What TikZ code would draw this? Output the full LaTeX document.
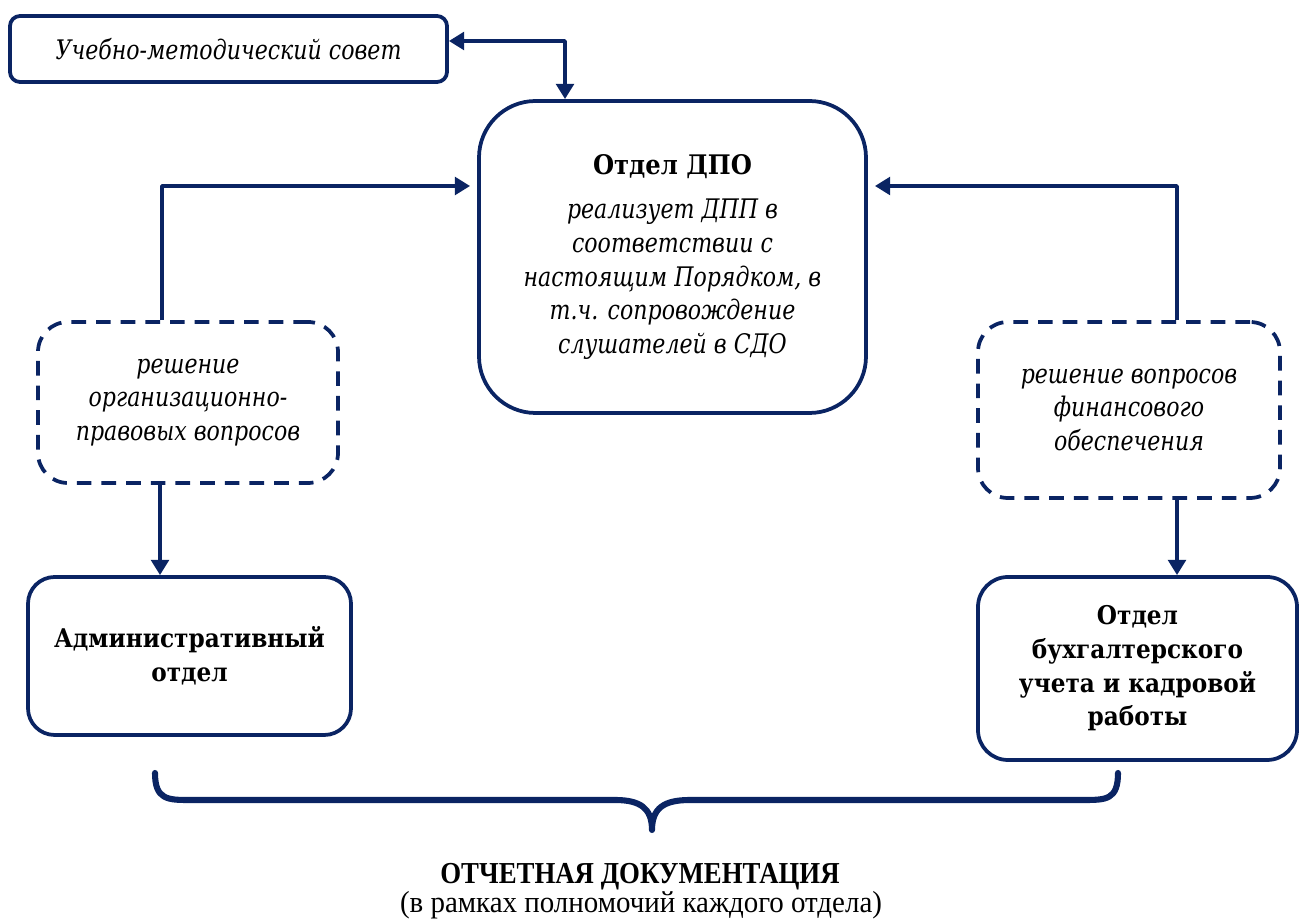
\documentclass[tikz,border=0pt]{standalone}
\usepackage{fontspec}
\setmainfont{DejaVu Serif}
\newfontfamily\notefont{DejaVu Serif}[FakeStretch=0.82]
\newfontfamily\headfont{DejaVu Serif}[FakeStretch=0.9]
\newfontfamily\timesfont{Liberation Serif}[FakeStretch=0.88]
\newfontfamily\timeswide{Liberation Serif}[FakeStretch=0.95]
\usetikzlibrary{arrows.meta}
\definecolor{navy}{HTML}{0A2463}
\begin{document}
\begin{tikzpicture}[x=0.015cm, y=-0.015cm, line join=round, >={Triangle[width=7.5pt,length=6.5pt]},
    font=\fontsize{10.5}{14}\selectfont,
    box/.style={draw=navy, line width=1.6pt, rounded corners=#1, align=center, inner sep=0pt},
    box/.default=0.15cm,
    qbox/.style={box=#1, dash pattern=on 0.22cm off 0.15cm},
    link/.style={draw=navy, line width=1.6pt},
    note/.style={font=\notefont\fontsize{11.5}{14.4}\selectfont\itshape},
    head/.style={font=\headfont\fontsize{11}{14.4}\selectfont\bfseries}]
    \useasboundingbox (0,0) rectangle (1299,922);
    % boxes
    \node[box, note, minimum width=6.555cm, minimum height=0.99cm] (ums) at (228.5,49) {Учебно-методический совет};
    \node[box=0.85cm, note, minimum width=5.805cm, minimum height=4.68cm] (dpo) at (672.5,257)
        {\upshape\bfseries\headfont Отдел ДПО\\[4.5pt] реализует ДПП в\\ соответствии с\\ настоящим Порядком, в\\ т.ч. сопровождение\\ слушателей в СДО};
    \node[qbox=0.45cm, note, minimum width=4.5cm, minimum height=2.415cm] (org) at (188,402.5) {решение\\ организационно-\\ правовых вопросов};
    \node[qbox=0.45cm, note, minimum width=4.53cm, minimum height=2.64cm] (fin) at (1129,410) {решение вопросов\\ финансового\\ обеспечения};
    \node[box=0.4cm, head, minimum width=4.845cm, minimum height=2.37cm] (adm) at (189.5,656) {Административный\\ отдел};
    \node[box=0.45cm, head, minimum width=4.785cm, minimum height=2.745cm] (buh) at (1137.5,668.5) {Отдел\\ бухгалтерского\\ учета и кадровой\\ работы};
    % connectors
    \coordinate (t1) at (565,41);
    \coordinate (l1) at (162,186);
    \coordinate (r1) at (1177,186);
    \coordinate (l2) at (160,0);
    \draw[link, <->] (t1 -| ums.east) -- (t1) -- (t1 |- dpo.north);
    \draw[link, ->, shorten >=3pt] (org.north -| l1) -- (l1) -- (l1 -| dpo.west);
    \draw[link, ->, shorten >=3pt] (fin.north -| r1) -- (r1) -- (r1 -| dpo.east);
    \draw[link, ->] (org.south -| l2) -- (adm.north -| l2);
    \draw[link, ->] (fin.south -| r1) -- (buh.north -| r1);
    % brace
    \draw[navy, line width=2.6pt, line cap=round]
        (155,773) .. controls (155,800) and (168,800) .. (190,800) -- (615,800)
        .. controls (640,800) and (652,808) .. (652,830)
        .. controls (652,808) and (664,800) .. (690,800) -- (1083,800)
        .. controls (1106,800) and (1118,800) .. (1118,773);
    \node[font=\timesfont\fontsize{13}{15}\selectfont\bfseries] (otch) at (640,877) {ОТЧЕТНАЯ ДОКУМЕНТАЦИЯ};
    \node[font=\timeswide\fontsize{13}{15}\selectfont] (ramk) at (641,905) {(в рамках полномочий каждого отдела)};
\end{tikzpicture}
\end{document}
